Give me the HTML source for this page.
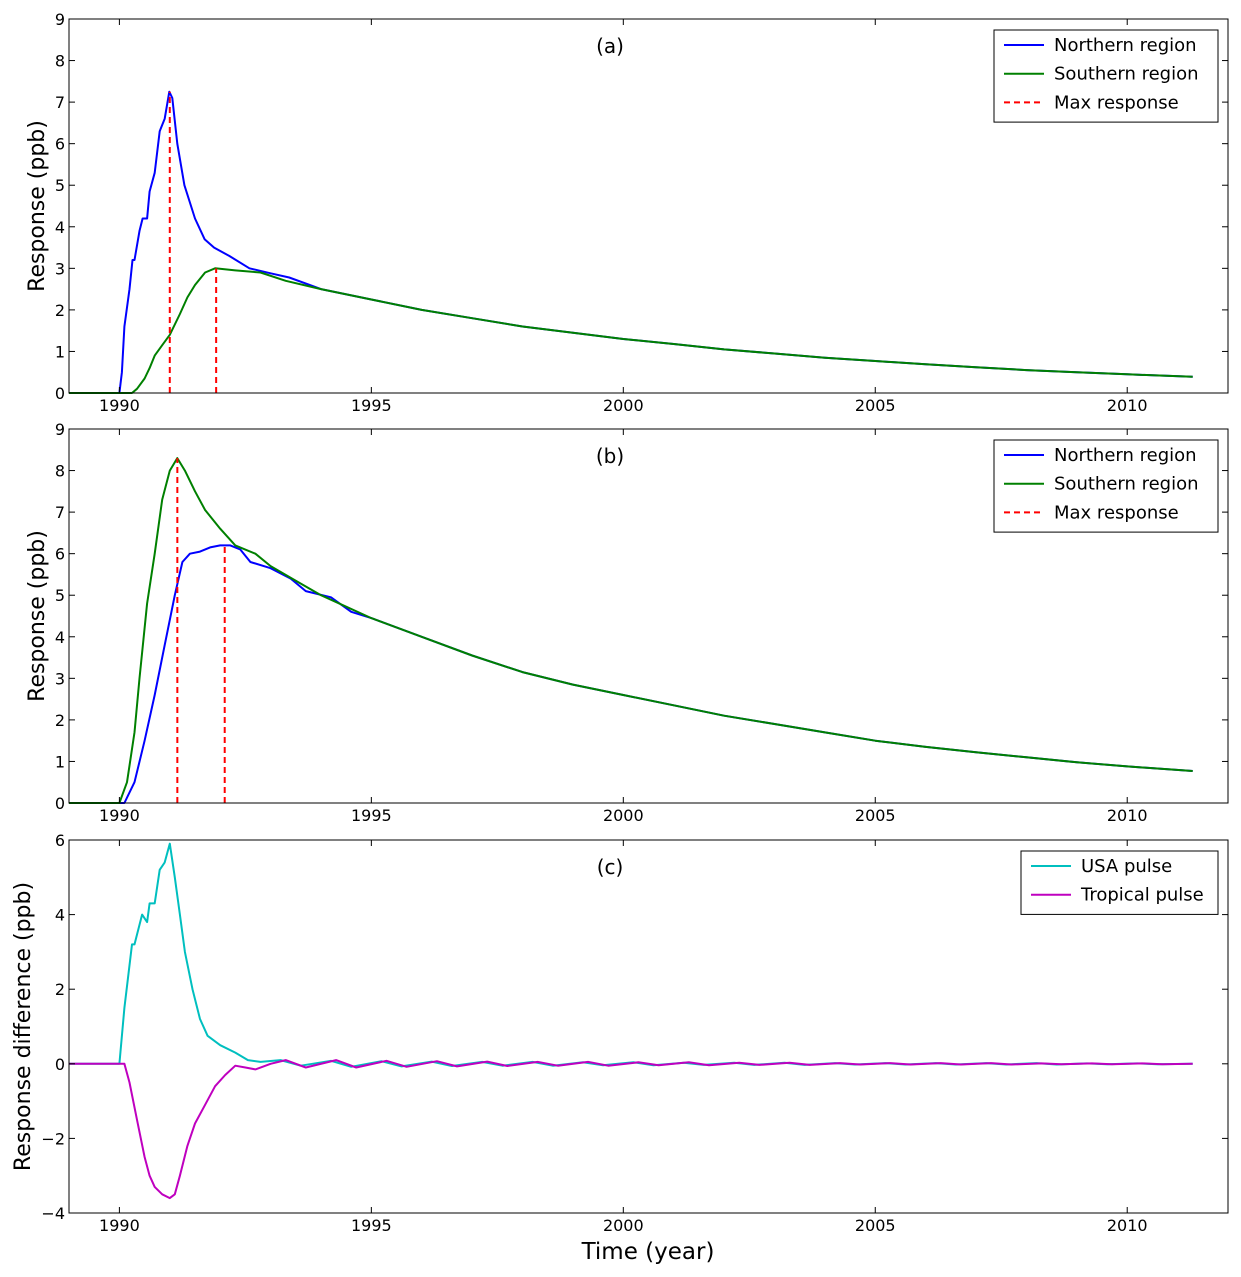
<!DOCTYPE html>
<html><head><meta charset="utf-8"><style>
body{margin:0;background:#fff;}
svg{display:block;font-family:"DejaVu Sans","Liberation Sans",sans-serif;}
</style></head><body>
<svg id="fig" width="1241" height="1277"></svg>
<script>
const aNorthT=[1989,1990.0,1990.05,1990.1,1990.2,1990.26,1990.3,1990.4,1990.46,1990.55,1990.6,1990.7,1990.8,1990.9,1990.99,1991.05,1991.15,1991.29,1991.5,1991.69,1991.88,1992.18,1992.58,1993.0,1993.37,1994,1995,1996,1997,1998,1999,2000,2001,2002,2003,2004,2005,2006,2007,2008,2009,2010,2011.3];
const aNorthV=[0,0,0.5,1.6,2.5,3.2,3.2,3.9,4.2,4.2,4.85,5.3,6.3,6.6,7.25,7.1,6.0,5.0,4.2,3.7,3.5,3.3,3.0,2.88,2.78,2.5,2.25,2.0,1.8,1.6,1.45,1.3,1.18,1.05,0.95,0.85,0.77,0.69,0.62,0.55,0.5,0.45,0.39];
const aSouthT=[1989,1990.25,1990.35,1990.5,1990.6,1990.7,1990.85,1991.0,1991.2,1991.35,1991.5,1991.7,1991.9,1992.3,1992.8,1993.3,1994,1995,1996,1997,1998,1999,2000,2001,2002,2003,2004,2005,2006,2007,2008,2009,2010,2011.3];
const aSouthV=[0,0,0.1,0.35,0.6,0.9,1.15,1.4,1.9,2.3,2.6,2.9,3.0,2.95,2.9,2.7,2.5,2.25,2.0,1.8,1.6,1.45,1.3,1.18,1.05,0.95,0.85,0.77,0.69,0.62,0.55,0.5,0.45,0.39];
const aMaxT=[1991.0,1991.92], aMaxV=[7.25,3.0];

const bNorthT=[1989,1990.1,1990.3,1990.5,1990.7,1990.9,1991.1,1991.25,1991.4,1991.6,1991.8,1992.0,1992.2,1992.4,1992.6,1993.0,1993.4,1993.7,1994.2,1994.6,1995,1996,1997,1998,1999,2000,2001,2002,2003,2004,2005,2006,2007,2008,2009,2010,2011.3];
const bNorthV=[0,0,0.5,1.5,2.6,3.8,5.0,5.8,6.0,6.05,6.15,6.2,6.2,6.1,5.8,5.65,5.4,5.1,4.95,4.6,4.45,4.0,3.55,3.15,2.85,2.6,2.35,2.1,1.9,1.7,1.5,1.35,1.22,1.1,0.98,0.88,0.77];
const bSouthT=[1989,1990.0,1990.15,1990.3,1990.4,1990.55,1990.7,1990.85,1991.0,1991.15,1991.3,1991.5,1991.7,1992.0,1992.3,1992.7,1993.0,1993.5,1994,1995,1996,1997,1998,1999,2000,2001,2002,2003,2004,2005,2006,2007,2008,2009,2010,2011.3];
const bSouthV=[0,0,0.5,1.7,3.0,4.8,6.0,7.3,8.0,8.3,8.0,7.5,7.05,6.6,6.2,6.0,5.7,5.35,5.0,4.45,4.0,3.55,3.15,2.85,2.6,2.35,2.1,1.9,1.7,1.5,1.35,1.22,1.1,0.98,0.88,0.77];
const bMaxT=[1991.15,1992.09], bMaxV=[8.3,6.2];

const cUsaT=[1989,1990.0,1990.1,1990.25,1990.3,1990.45,1990.55,1990.6,1990.7,1990.8,1990.9,1991.0,1991.1,1991.2,1991.3,1991.45,1991.6,1991.75,1992,1992.3,1992.55,1992.8,1993.2,1993.6,1994.2,1994.6,1995.2,1995.6,1996.2,1996.6,1997.2,1997.6,1998.2,1998.6,1999.2,1999.6,2000.2,2000.6,2001.2,2001.6,2002.2,2002.6,2003.2,2003.6,2004.2,2004.6,2005.2,2005.6,2006.2,2006.6,2007.2,2007.6,2008.2,2008.6,2009.2,2009.6,2010.2,2010.6,2011.3];
const cUsaV=[0,0,1.5,3.2,3.2,4.0,3.8,4.3,4.3,5.2,5.4,5.9,5.0,4.0,3.0,2.0,1.2,0.75,0.5,0.3,0.1,0.05,0.1,-0.05,0.08,-0.08,0.07,-0.07,0.06,-0.06,0.05,-0.05,0.05,-0.05,0.04,-0.04,0.04,-0.04,0.03,-0.03,0.03,-0.03,0.03,-0.03,0.02,-0.02,0.02,-0.02,0.02,-0.02,0.02,-0.02,0.02,-0.02,0.01,-0.01,0.01,-0.01,0];
const cTropT=[1989,1990.1,1990.2,1990.35,1990.5,1990.6,1990.7,1990.85,1991.0,1991.1,1991.2,1991.35,1991.5,1991.7,1991.9,1992.1,1992.3,1992.5,1992.7,1993.0,1993.3,1993.7,1994.3,1994.7,1995.3,1995.7,1996.3,1996.7,1997.3,1997.7,1998.3,1998.7,1999.3,1999.7,2000.3,2000.7,2001.3,2001.7,2002.3,2002.7,2003.3,2003.7,2004.3,2004.7,2005.3,2005.7,2006.3,2006.7,2007.3,2007.7,2008.3,2008.7,2009.3,2009.7,2010.3,2010.7,2011.3];
const cTropV=[0,0,-0.5,-1.5,-2.5,-3.0,-3.3,-3.5,-3.6,-3.5,-3.0,-2.2,-1.6,-1.1,-0.6,-0.3,-0.05,-0.1,-0.15,0.0,0.1,-0.1,0.1,-0.1,0.08,-0.08,0.07,-0.07,0.06,-0.06,0.05,-0.05,0.05,-0.05,0.04,-0.04,0.04,-0.04,0.03,-0.03,0.03,-0.03,0.02,-0.02,0.02,-0.02,0.02,-0.02,0.02,-0.02,0.01,-0.01,0.01,-0.01,0.01,-0.01,0];
const xTicks=[1990,1995,2000,2005,2010];
const abTicks=[0,1,2,3,4,5,6,7,8,9];
const cTicks=[-4,-2,0,2,4,6];

const NS="http://www.w3.org/2000/svg";
const svg=document.getElementById('fig');
function el(tag,attrs,parent){const e=document.createElementNS(NS,tag);for(const k in attrs)e.setAttribute(k,attrs[k]);(parent||svg).appendChild(e);return e;}
const X0=69,X1=1228;
const xs=t=>X0+(t-1989)/(2012-1989)*(X1-X0);

function panel(name,top,bot,ymin,ymax,yticks,ylabel,series,maxT,maxV,label,legend,legW){
  const g=el('g',{});
  
  
  const ys=v=>bot-(v-ymin)/(ymax-ymin)*(bot-top);
  for(const s of series){
    const p=el('polyline',{points:s.t.map((t,i)=>xs(t).toFixed(1)+','+ys(s.v[i]).toFixed(1)).join(' '),fill:'none',stroke:s.c,'stroke-width':2,'stroke-linejoin':'round'},g);
    
    
  }
  if(maxT){for(let i=0;i<maxT.length;i++){
    const l=el('line',{x1:xs(maxT[i]),x2:xs(maxT[i]),y1:bot,y2:ys(maxV[i]),stroke:'#f00','stroke-width':2,'stroke-dasharray':'6,4'},g);
    
    
  }}
  const fr=el('rect',{x:X0,y:top,width:X1-X0,height:bot-top,fill:'none',stroke:'#000','stroke-width':1},g);
  
  
  for(const t of xTicks){const x=xs(t);
    el('line',{x1:x,x2:x,y1:bot,y2:bot-6,stroke:'#000'},g);el('line',{x1:x,x2:x,y1:top,y2:top+6,stroke:'#000'},g);
    const tx=el('text',{x:x,y:bot+18,'font-size':16,'text-anchor':'middle'},g);tx.textContent=t;
    
    }
  for(const t of yticks){const y=ys(t);
    el('line',{x1:X0,x2:X0+6,y1:y,y2:y,stroke:'#000'},g);el('line',{x1:X1,x2:X1-6,y1:y,y2:y,stroke:'#000'},g);
    const tx=el('text',{x:X0-4,y:y+6,'font-size':16,'text-anchor':'end'},g);tx.textContent=(t<0?'\u2212'+(-t):t);
    
    }
  const yl=el('text',{x:0,y:0,'font-size':22,'text-anchor':'middle',transform:`translate(${ylabel[1]},${(top+bot)/2}) rotate(-90)`},g);yl.textContent=ylabel[0];
  
  
  const pl=el('text',{x:610,y:top+34,'font-size':20,'text-anchor':'middle'},g);pl.textContent=label;
  
  
  const lg=el('g',{},g);
  
  
  const lx=X1-10-legW, ly=top+11;
  el('rect',{x:lx,y:ly,width:legW,height:legend.length*28.7+6,fill:'#fff',stroke:'#000'},lg);
  legend.forEach((e,i)=>{const y=ly+15+i*28.7;
    const ln=el('line',{x1:lx+10,x2:lx+50,y1:y,y2:y,stroke:e.c,'stroke-width':2,'stroke-dasharray':e.d?'6,4':'none'},lg);
    
    
    const tx=el('text',{x:lx+60,y:y+6,'font-size':18},lg);tx.textContent=e.n;
    
    });
}
const legAB=[{c:'#0000ff',n:'Northern region'},{c:'#008000',n:'Southern region'},{c:'#f00',n:'Max response',d:1}];
panel('panel-a',19,393,0,9,abTicks,['Response (ppb)',44],[{t:aNorthT,v:aNorthV,c:'#0000ff',n:'northern-line'},{t:aSouthT,v:aSouthV,c:'#008000',n:'southern-line'}],aMaxT,aMaxV,'(a)',legAB,224);
panel('panel-b',429,803,0,9,abTicks,['Response (ppb)',44],[{t:bNorthT,v:bNorthV,c:'#0000ff',n:'northern-line'},{t:bSouthT,v:bSouthV,c:'#008000',n:'southern-line'}],bMaxT,bMaxV,'(b)',legAB,224);
panel('panel-c',840,1213,-4,6,cTicks,['Response difference (ppb)',30],[{t:cUsaT,v:cUsaV,c:'#00bfbf',n:'usa-pulse-line'},{t:cTropT,v:cTropV,c:'#bf00bf',n:'tropical-pulse-line'}],null,null,'(c)',[{c:'#00bfbf',n:'USA pulse'},{c:'#bf00bf',n:'Tropical pulse'}],197);
const xt=el('text',{x:648,y:1259,'font-size':23,'text-anchor':'middle'});xt.textContent='Time (year)';


</script>
</body></html>
